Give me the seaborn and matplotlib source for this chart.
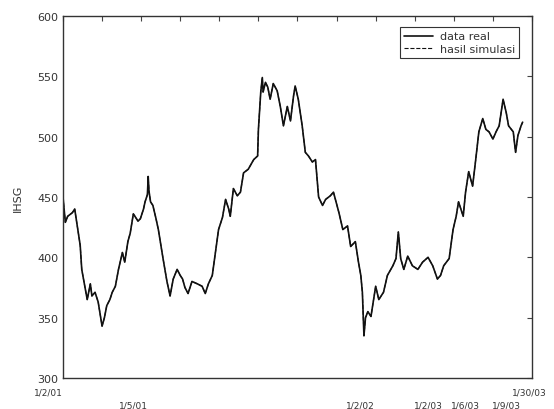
import matplotlib
matplotlib.use("Agg")
import matplotlib.pyplot as plt
import matplotlib.transforms as mtransforms
import seaborn as sns
import pandas as pd

# Trading-day index and IHSG closing values
hari = [0, 3, 6, 12, 15, 18, 19, 22, 24, 28, 31, 35, 37, 41, 45, 47, 50, 53, 56, 60,
        63, 67, 71, 76, 79, 83, 86, 90, 94, 96, 99, 103, 105, 108, 109, 110, 112, 115,
        119, 122, 124, 128, 133, 137, 141, 146, 150, 153, 156, 160, 165, 172, 178, 182,
        186, 191, 195, 199, 204, 208, 212, 214, 218, 223, 227, 231, 237, 244, 249, 250,
        253, 255, 256, 259, 262, 265, 269, 274, 278, 282, 287, 291, 295, 297, 301, 306,
        310, 314, 319, 323, 327, 332, 336, 342, 346, 353, 358, 364, 368, 374, 378, 381,
        383, 385, 387, 390, 394, 400, 404, 410, 415, 422, 426, 429, 432, 436, 441, 447,
        454, 460, 467, 473, 479, 483, 487, 494, 499, 503, 506, 512, 515, 519, 524, 528,
        532, 537, 541, 545, 550, 554, 558, 563, 567, 570, 576, 579, 582, 586, 588]

data_real = [450, 429, 434, 437, 440, 427, 423, 410, 390, 376, 365, 378, 368, 371, 363,
             355, 343, 350, 360, 365, 371, 376, 390, 404, 396, 413, 420, 436, 432, 430,
             432, 440, 446, 452, 467, 455, 446, 443, 432, 423, 415, 399, 380, 368, 382,
             390, 385, 382, 375, 370, 380, 378, 376, 370, 378, 385, 404, 423, 433, 448,
             440, 434, 457, 451, 454, 470, 473, 481, 484, 506, 537, 549, 537, 545, 541,
             531, 544, 538, 525, 509, 525, 513, 534, 542, 531, 509, 487, 484, 479, 481,
             450, 443, 448, 451, 454, 437, 423, 426, 409, 413, 396, 385, 371, 335, 350,
             355, 351, 376, 365, 371, 385, 393, 399, 421, 399, 390, 401, 393, 390, 396,
             400, 393, 382, 385, 393, 399, 423, 434, 446, 434, 454, 471, 459, 481, 504,
             515, 506, 504, 498, 504, 509, 531, 520, 509, 504, 487, 501, 509, 512]

hasil_simulasi = [450, 429, 434, 437, 440, 427, 423, 410, 390, 376, 365, 378, 368, 371, 363,
                  355, 343, 350, 360, 365, 371, 376, 390, 404, 396, 413, 420, 436, 432, 430,
                  432, 440, 446, 452, 467, 455, 446, 443, 432, 423, 415, 399, 380, 368, 382,
                  390, 385, 382, 375, 370, 380, 378, 376, 370, 378, 385, 404, 423, 433, 448,
                  440, 434, 457, 451, 454, 470, 473, 481, 484, 506, 537, 549, 537, 545, 541,
                  531, 544, 538, 525, 509, 525, 513, 534, 542, 531, 509, 487, 484, 479, 481,
                  450, 443, 448, 451, 454, 437, 423, 426, 409, 413, 396, 385, 371, 335, 350,
                  355, 351, 376, 365, 371, 385, 393, 399, 421, 399, 390, 401, 393, 390, 396,
                  400, 393, 382, 385, 393, 399, 423, 434, 446, 434, 454, 471, 459, 481, 504,
                  515, 506, 504, 498, 504, 509, 531, 520, 509, 504, 487, 501, 509, 512]

# Date labels under the time axis (two staggered rows)
tanggal_atas = ["1/2/01", "1/30/03"]
posisi_atas = [-19, 596]
tanggal_bawah = ["1/5/01", "1/2/02", "1/2/03", "1/6/03", "1/9/03"]
posisi_bawah = [90, 381, 468, 515, 567]

sns.set_style("white")
plt.rcParams["font.family"] = ["DejaVu Sans"]
plt.rcParams["xtick.direction"] = "in"
plt.rcParams["ytick.direction"] = "in"

df = pd.DataFrame({"hari": hari, "real": data_real, "sim": hasil_simulasi})

fig = plt.figure(figsize=(5.54, 4.10), dpi=100)
ax = fig.add_axes([0.1137, 0.0756, 0.8466, 0.883])

sns.lineplot(data=df, x="hari", y="real", color="#111111", linewidth=1.2,
             label="data real", ax=ax)
sns.lineplot(data=df, x="hari", y="sim", color="#111111", linewidth=0.8,
             linestyle="--", label="hasil simulasi", ax=ax)

ax.set_xlim(0, 600)
ax.set_ylim(300, 600)
ax.set_xticks(range(0, 601, 50))
ax.set_xticklabels([])
ax.set_yticks(range(300, 601, 50))
ax.tick_params(axis="both", which="both", top=True, right=True, length=3.5,
               width=0.8, color="#444444", labelsize=8, labelcolor="#333333")
ax.set_xlabel("")
ax.set_ylabel("IHSG", fontsize=8, color="#333333", labelpad=10)

for s in ax.spines.values():
    s.set_visible(True)
    s.set_color("#333333")
    s.set_linewidth(1.0)

px = mtransforms.blended_transform_factory(ax.transData, mtransforms.IdentityTransform())
for lbl, pos in zip(tanggal_atas, posisi_atas):
    fig.text(pos, 410 - 393, lbl, transform=px, fontsize=6.5,
             color="#333333", ha="center", va="center")
for lbl, pos in zip(tanggal_bawah, posisi_bawah):
    fig.text(pos, 410 - 406, lbl, transform=px, fontsize=6.5,
             color="#333333", ha="center", va="center")

leg = ax.legend(loc="upper right", fontsize=8, frameon=True, fancybox=False,
                edgecolor="#333333", framealpha=1, borderpad=0.4,
                handlelength=2.6, handletextpad=0.6, labelspacing=0.2,
                bbox_to_anchor=(0.985, 0.985))
leg.get_frame().set_linewidth(0.8)
for t in leg.get_texts():
    t.set_color("#333333")

fig.savefig("out.png", dpi=100)
